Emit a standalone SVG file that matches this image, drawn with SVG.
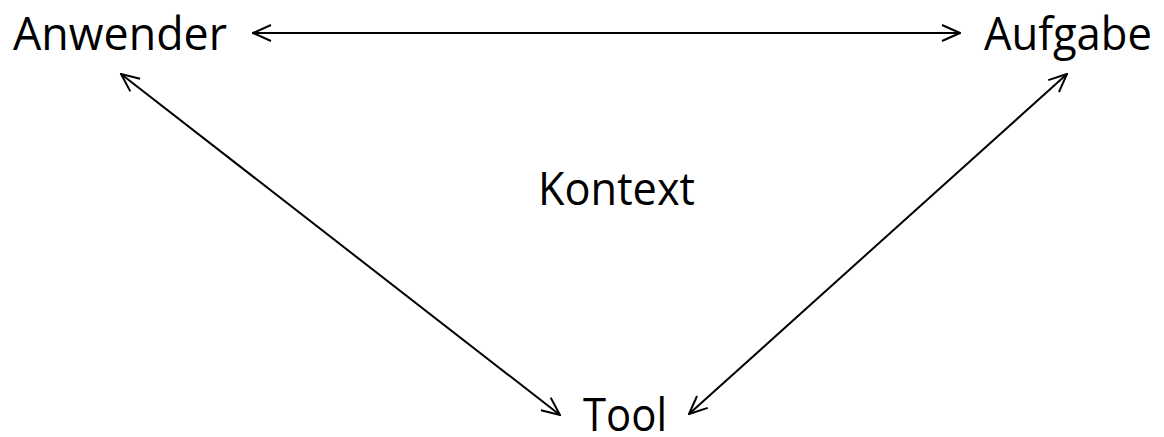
<svg xmlns="http://www.w3.org/2000/svg" width="1164" height="437" viewBox="0 0 1164 437">
<style>
.lbl{font-family:"Open Sans","Noto Sans","Liberation Sans",sans-serif;font-size:46px;fill:#000}
.con{stroke:#000;stroke-width:2;fill:none;marker-start:url(#ah);marker-end:url(#ah)}
</style>
<defs>
<marker id="ah" viewBox="0 0 20 18" refX="19" refY="9" markerWidth="20" markerHeight="18" markerUnits="userSpaceOnUse" orient="auto-start-reverse">
<path d="M1,1 L19,9 L1,17" fill="none" stroke="#000" stroke-width="2"/>
</marker>
</defs>
<rect width="1164" height="437" fill="#fff"/>
<g id="connectors">
<line class="con" x1="253" y1="33" x2="960" y2="33"/>
<line class="con" x1="121" y1="74" x2="560" y2="415"/>
<line class="con" x1="1067" y1="74" x2="689" y2="414"/>
</g>
<g id="node-anwender"><text class="lbl" x="13" y="50" textLength="214" lengthAdjust="spacingAndGlyphs">Anwender</text></g>
<g id="node-aufgabe"><text class="lbl" x="984" y="50" textLength="168" lengthAdjust="spacingAndGlyphs">Aufgabe</text></g>
<g id="node-kontext"><text class="lbl" x="538" y="205" textLength="157" lengthAdjust="spacingAndGlyphs">Kontext</text></g>
<g id="node-tool"><text class="lbl" x="583" y="431" textLength="84" lengthAdjust="spacingAndGlyphs">Tool</text></g>
</svg>
